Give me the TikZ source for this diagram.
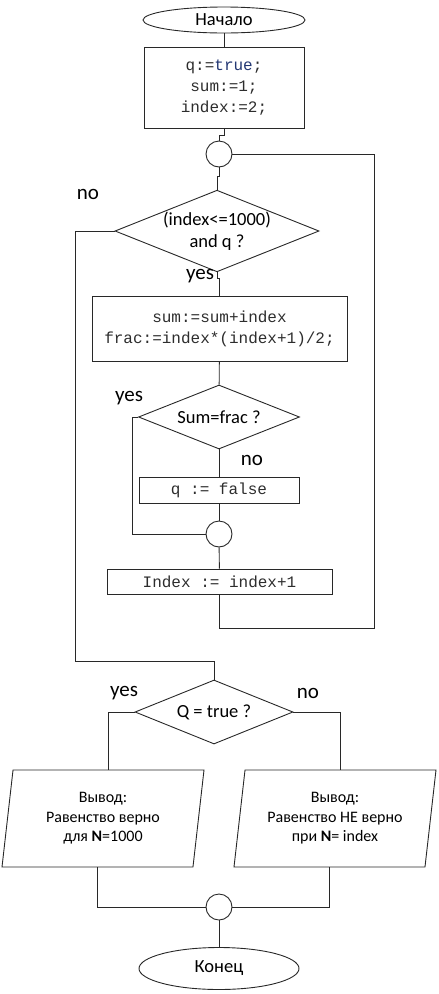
\documentclass[tikz,border=0pt]{standalone}
\usepackage{fontspec}
\setmainfont{Carlito}
\newfontfamily\codefont{Liberation Mono}
\usetikzlibrary{shapes.geometric}
\definecolor{myline}{RGB}{40,40,40}
\definecolor{mycode}{RGB}{45,45,45}
\definecolor{myblue}{RGB}{35,55,115}

\begin{document}
\begin{tikzpicture}[x=1pt,y=-1pt,
  line width=0.9pt,
  every node/.style={inner sep=0pt},
  term/.style={draw=myline,ellipse,font=\fontsize{18.5}{20}\selectfont},
  op/.style={draw=myline,rectangle,align=center,text=mycode,
    font=\codefont\fontsize{16}{21}\selectfont},
  cond/.style={draw=myline,diamond,shape aspect=2.5,align=center,
    font=\fontsize{18.5}{22}\selectfont},
  io/.style={draw=myline,trapezium,trapezium left angle=78,
    trapezium right angle=102,trapezium stretches body,align=center,
    minimum width=202pt,minimum height=97pt,
    font=\fontsize{16}{19.5}\selectfont},
  jn/.style={draw=myline,circle,minimum size=26pt},
  lbl/.style={font=\fontsize{21}{22}\selectfont}]
\useasboundingbox (0,0) rectangle (439,994);

% start and init
\node[term,minimum width=162pt,minimum height=26pt] (start) at (224,20) {Начало};
\node[op,minimum width=160pt,minimum height=81pt] (init) at (224,87.5)
  {q:=\textcolor{myblue}{true};\\sum:=1;\\index:=2;};
\node[jn] (c1) at (219,154) {};

% main loop
\node[cond,minimum width=204pt,minimum height=80pt] (d1) at (217,231)
  {(index<=1000)\\and q ?};
\node[op,minimum width=255pt,minimum height=65pt] (body) at (219.5,328.5)
  {sum:=sum+index\\frac:=index*(index+1)/2;};
\node[cond,minimum width=161pt,minimum height=64pt] (d2) at (219,417) {Sum=frac ?};
\node[op,minimum width=160pt,minimum height=26pt] (qf) at (219,490) {q := false};
\node[jn] (c2) at (219,534) {};
\node[op,minimum width=225pt,minimum height=25pt] (inc) at (219.5,581.5) {Index := index+1};
\coordinate (loopR) at (374,628);
\coordinate (noL) at (75,661);

% result
\node[cond,minimum width=158pt,minimum height=64pt] (d3) at (214,712) {Q = true ?};
\node[io] (yesout) at (103,818.5)
  {Вывод:\\Равенство верно\\для \textbf{N}=1000};
\node[io] (noout) at (335,818.5)
  {Вывод:\\Равенство НЕ верно\\при \textbf{N}= index};
\node[jn] (c3) at (219,907) {};
\node[term,minimum width=160pt,minimum height=42pt] (finish) at (219,968.5) {Конец};

\begin{scope}[draw=myline]
\draw (start) -- (init);
\draw (init.south) -- ++(0,7) -| (c1.north);
\draw (c1.south) -- ++(0,9) -| (d1.north);
\draw (d1.south) -- ++(0,6) -| (body.north);
\draw (body) -- (d2);
\draw (d2) -- (qf);
\draw (qf) -- (c2);
\draw (d2.west) -- ++(-6,0) |- (c2.west);
\draw (c2) -- (inc);
\draw (inc.south) |- (loopR) |- (c1.east);
\draw (d1.west) -| (noL) -| (d3.north);
\draw (d3.west) -| (yesout.top side);
\draw (d3.east) -| (noout.top side);
\draw (yesout.bottom side) |- (c3.west);
\draw (noout.bottom side) |- (c3.east);
\draw (c3) -- (finish);
\end{scope}

% branch labels
\node[lbl] (no1) at (88,194) {no};
\node[lbl] (yes1) at (200,276) {yes};
\node[lbl] (yes2) at (129,398) {yes};
\node[lbl] (no2) at (252,460) {no};
\node[lbl] (yes3) at (124,693) {yes};
\node[lbl] (no3) at (308,693) {no};
\end{tikzpicture}
\end{document}
